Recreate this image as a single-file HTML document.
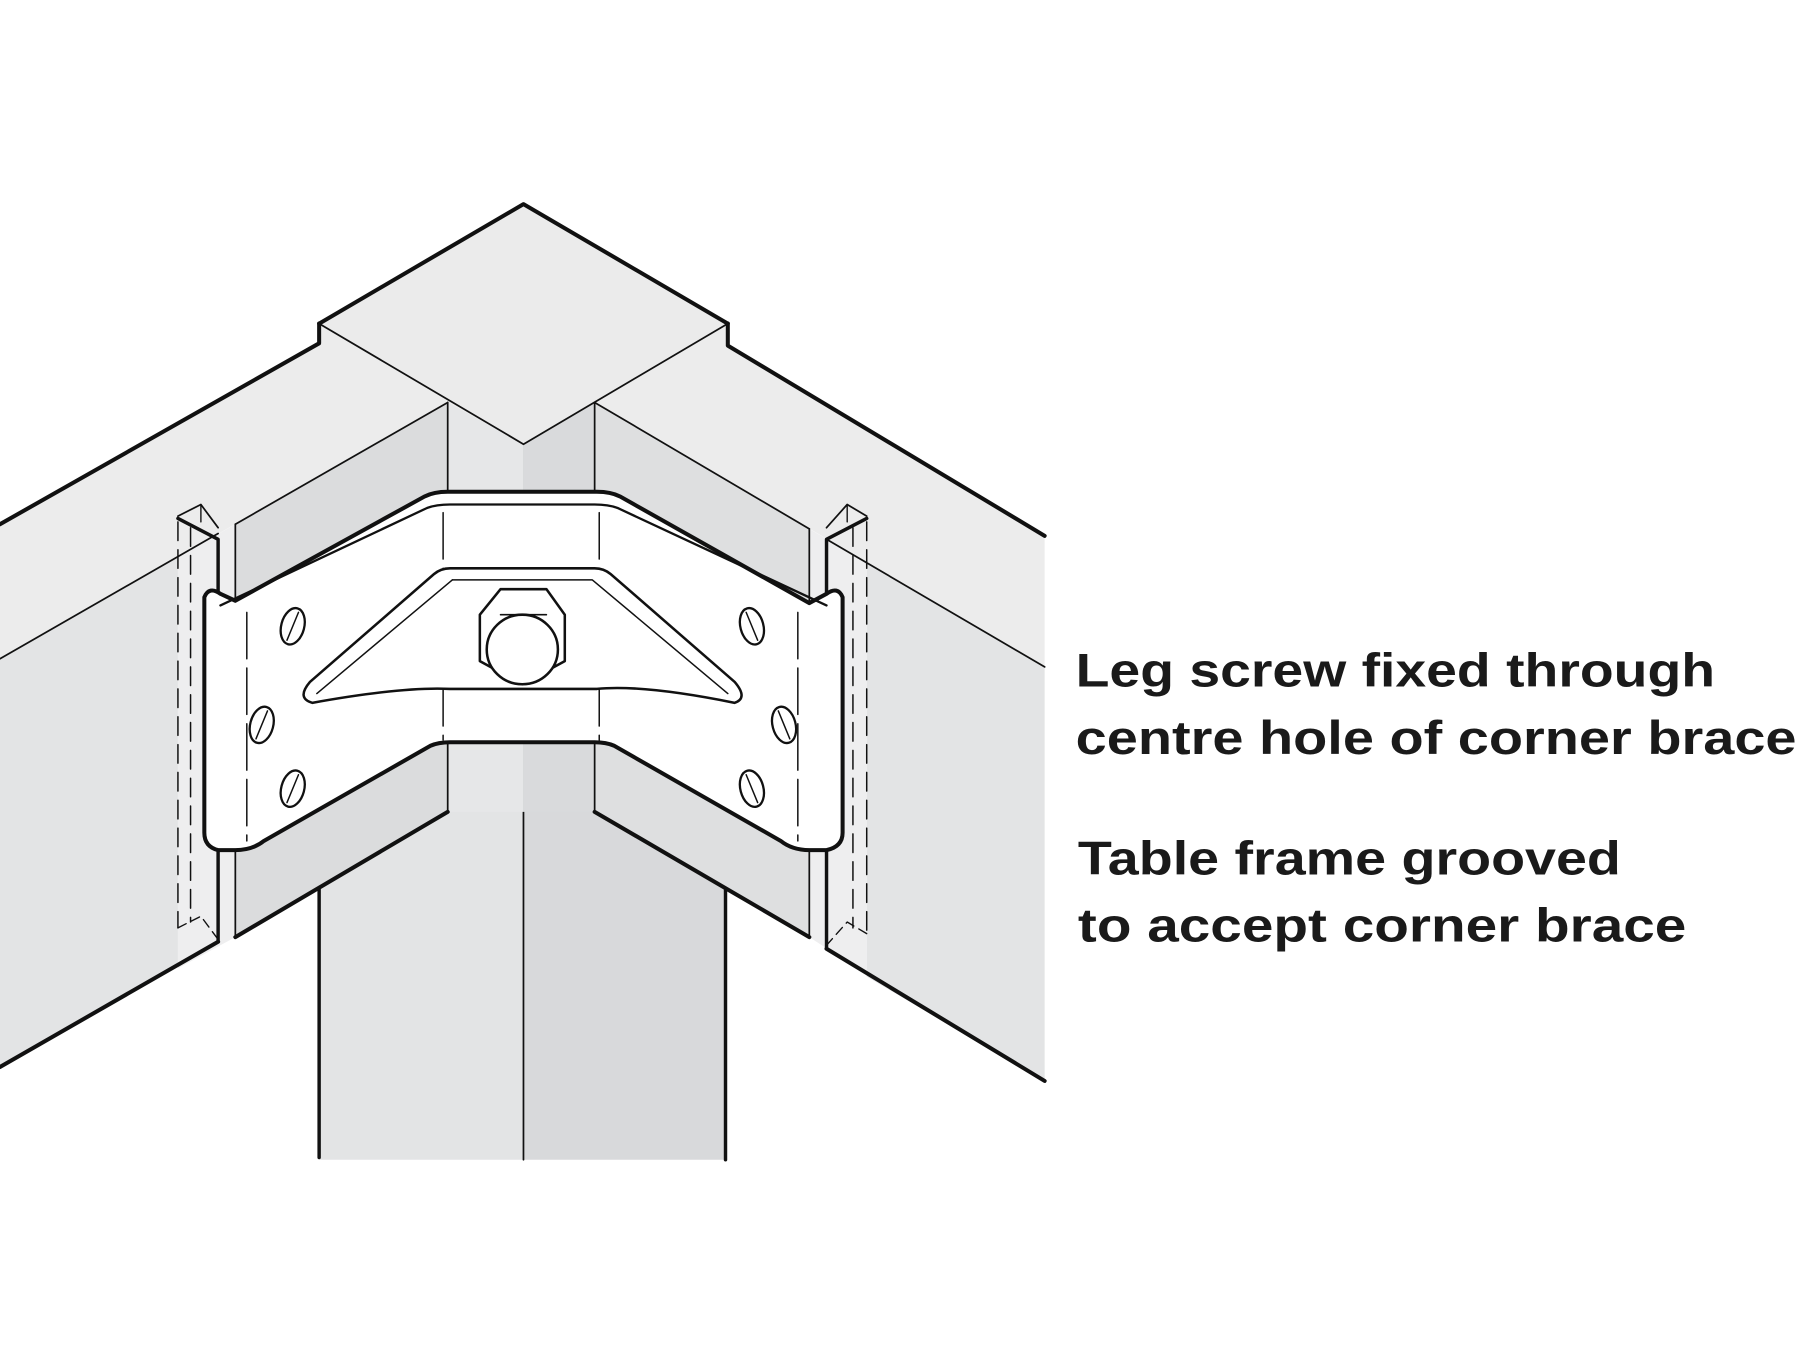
<!DOCTYPE html>
<html><head><meta charset="utf-8"><style>
html,body{margin:0;padding:0;background:#fff;}
svg{display:block;}
text{font-family:"Liberation Sans",Arial,sans-serif;font-weight:bold;fill:#1a1a1a;}
</style></head><body>
<svg width="1800" height="1350" viewBox="0 0 1568 1164" preserveAspectRatio="none" xmlns="http://www.w3.org/2000/svg">
<rect width="1568" height="1164" fill="#fff"/>
<g stroke="#111" stroke-linejoin="round" stroke-linecap="round">
<!-- leg lower -->
<polygon points="278,760 456,660 456,1000 278,1000" fill="#e3e4e5" stroke="none"/>
<polygon points="456,660 632,760 632,1000 456,1000" fill="#d8d9db" stroke="none"/>
<line x1="278" y1="762" x2="278" y2="998" stroke-width="3"/>
<line x1="632" y1="762" x2="632" y2="1000" stroke-width="3"/>
<line x1="456" y1="383" x2="456" y2="1000" stroke-width="1.5"/>
<!-- leg upper faces between rails -->
<polygon points="390,344 456,383 456,700 390,700" fill="#e6e7e8" stroke="none"/>
<polygon points="456,383 518,346 518,700 456,700" fill="#d9dadc" stroke="none"/>
<!-- left rail -->
<polygon points="0,452 278,296 278,279 456,383 390,347 0,568" fill="#ececec" stroke="none"/>
<polygon points="0,568 155,480 155,832 0,920" fill="#e3e4e5" stroke="none"/>
<polygon points="155,480 205,452 205,808 155,835" fill="#eeeeef" stroke="none"/>
<polygon points="205,452 390,347 390,700 205,808" fill="#dbdcdd" stroke="none"/>
<!-- right rail -->
<polygon points="910,462 634,298 634,279 456,383 518,347 910,575" fill="#ececec" stroke="none"/>
<polygon points="910,575 755,485 755,842 910,932" fill="#e3e4e5" stroke="none"/>
<polygon points="755,485 705,456 705,808 755,840" fill="#eeeeef" stroke="none"/>
<polygon points="705,456 518,347 518,700 705,808" fill="#dedfe0" stroke="none"/>
<!-- leg top -->
<polygon points="456,176 634,279 456,383 278,279" fill="#ebebeb" stroke-width="1.5"/>
<polyline points="278,279 456,176 634,279" fill="none" stroke-width="3.5"/>
<polyline points="278,279 278,296 0,452" fill="none" stroke-width="3.5"/>
<polyline points="634,279 634,298 910,462" fill="none" stroke-width="3.5"/>
<!-- rail edges -->
<line x1="0" y1="568" x2="190" y2="460" stroke-width="1.5"/>
<line x1="205" y1="452" x2="390" y2="347" stroke-width="1.5"/>
<line x1="390" y1="347" x2="390" y2="700" stroke-width="1.5"/>
<line x1="910" y1="575" x2="720" y2="465" stroke-width="1.5"/>
<line x1="705" y1="456" x2="518" y2="347" stroke-width="1.5"/>
<line x1="518" y1="347" x2="518" y2="700" stroke-width="1.5"/>
<polyline points="390,700 205,808" fill="none" stroke-width="3.5"/>
<polyline points="190,812 0,920" fill="none" stroke-width="3.5"/>
<polyline points="518,700 705,808" fill="none" stroke-width="3.5"/>
<polyline points="720,818 910,932" fill="none" stroke-width="3.5"/>
<!-- grooves left -->
<polyline points="155,445 175,435 190,455" fill="none" stroke-width="1.5"/>
<polyline points="155,447 190,465 190,812" fill="none" stroke-width="3"/>
<line x1="205" y1="452" x2="205" y2="808" stroke-width="1.5"/>
<line x1="175" y1="435" x2="175" y2="450" stroke-width="1.2"/>
<line x1="155" y1="450" x2="155" y2="800" stroke-width="1.3" stroke-dasharray="16,8"/>
<line x1="166" y1="455" x2="166" y2="795" stroke-width="1.3" stroke-dasharray="16,8"/>
<polyline points="155,800 175,790 190,810" fill="none" stroke-width="1.2" stroke-dasharray="8,5"/>
<!-- grooves right -->
<polyline points="755,445 738,435 720,455" fill="none" stroke-width="1.5"/>
<polyline points="755,447 720,465 720,818" fill="none" stroke-width="3"/>
<line x1="705" y1="456" x2="705" y2="808" stroke-width="1.5"/>
<line x1="738" y1="435" x2="738" y2="450" stroke-width="1.2"/>
<line x1="755" y1="450" x2="755" y2="805" stroke-width="1.3" stroke-dasharray="16,8"/>
<line x1="743" y1="455" x2="743" y2="800" stroke-width="1.3" stroke-dasharray="16,8"/>
<polyline points="755,805 738,795 720,815" fill="none" stroke-width="1.2" stroke-dasharray="8,5"/>
<!-- bracket -->
<path d="M178,515 Q182,505 192,512 L205,518 L370,428 Q378,424 390,424 L520,424 Q532,424 540,428 L705,520 L720,512 Q730,505 734,515 L734,718 Q734,730 720,733 L705,733 Q690,733 680,725 L535,643 Q528,640 518,640 L392,640 Q382,640 375,643 L230,725 Q220,733 205,733 L190,733 Q178,730 178,718 Z" fill="#fff" stroke-width="3.5"/>
<path d="M192,522 L372,438 Q380,435 392,435 L518,435 Q530,435 538,438 L720,522" fill="none" stroke-width="2"/>
<line x1="215" y1="528" x2="215" y2="725" stroke-width="1.3" stroke-dasharray="40,8"/>
<line x1="695" y1="528" x2="695" y2="725" stroke-width="1.3" stroke-dasharray="40,8"/>
<line x1="386" y1="442" x2="386" y2="638" stroke-width="1.3" stroke-dasharray="40,8"/>
<line x1="522" y1="442" x2="522" y2="638" stroke-width="1.3" stroke-dasharray="40,8"/>
<!-- triangle hole -->
<path d="M392,490 L518,490 Q526,490 532,495 L640,588 Q652,602 640,606 Q560,590 520,594 L392,594 Q350,592 272,606 Q258,602 270,588 L378,495 Q384,490 392,490 Z" fill="#fff" stroke-width="2.2"/>
<path d="M394,500 L516,500 L634,598" fill="none" stroke-width="1.3"/>
<path d="M394,500 L276,598" fill="none" stroke-width="1.3"/>
<!-- bolt -->
<polygon points="436,508 476,508 492,530 492,570 455,590 418,570 418,530" fill="#fff" stroke-width="2.2"/>
<line x1="436" y1="530" x2="476" y2="530" stroke-width="1.3"/>
<ellipse cx="455" cy="560" rx="31" ry="30" fill="#fff" stroke-width="2.2"/>
<!-- screws -->
<g fill="#fff" stroke-width="2">
<ellipse cx="255" cy="540" rx="10" ry="16" transform="rotate(15 255 540)"/>
<ellipse cx="228" cy="625" rx="10" ry="16" transform="rotate(15 228 625)"/>
<ellipse cx="255" cy="680" rx="10" ry="16" transform="rotate(15 255 680)"/>
<ellipse cx="655" cy="540" rx="10" ry="16" transform="rotate(-15 655 540)"/>
<ellipse cx="683" cy="625" rx="10" ry="16" transform="rotate(-15 683 625)"/>
<ellipse cx="655" cy="680" rx="10" ry="16" transform="rotate(-15 655 680)"/>
</g>
<g stroke-width="1.3">
<line x1="250" y1="552" x2="260" y2="528"/><line x1="223" y1="637" x2="233" y2="613"/><line x1="250" y1="692" x2="260" y2="668"/>
<line x1="650" y1="528" x2="660" y2="552"/><line x1="678" y1="613" x2="688" y2="637"/><line x1="650" y1="668" x2="660" y2="692"/>
</g>
</g>
<text x="937" y="592" font-size="41" textLength="557" lengthAdjust="spacingAndGlyphs">Leg screw fixed through</text>
<text x="937" y="650" font-size="41" textLength="628" lengthAdjust="spacingAndGlyphs">centre hole of corner brace</text>
<text x="939" y="754" font-size="41" textLength="473" lengthAdjust="spacingAndGlyphs">Table frame grooved</text>
<text x="939" y="812" font-size="41" textLength="530" lengthAdjust="spacingAndGlyphs">to accept corner brace</text>
</svg>
</body></html>
